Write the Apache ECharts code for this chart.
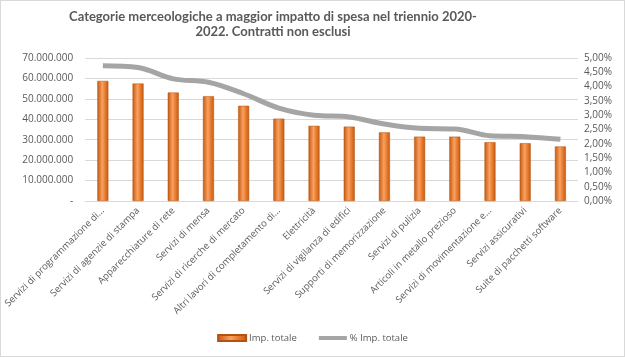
<!DOCTYPE html>
<html><head><meta charset="utf-8">
<script src="https://cdn.jsdelivr.net/npm/echarts@6/dist/echarts.min.js"></script>
<style>html,body{margin:0;padding:0;background:#fff}#c{width:625px;height:357px;box-sizing:border-box;border:1px solid #d9d9d9}</style>
</head><body><div id="c"></div>
<script>
const categories = ["Servizi di programmazione di...","Servizi di agenzie di stampa","Apparecchiature di rete","Servizi di mensa","Servizi di ricerche di mercato","Altri lavori di completamento di...","Elettricità","Servizi di vigilanza di edifici","Supporti di memorizzazione","Servizi di pulizia","Articoli in metallo prezioso","Servizi di movimentazione e...","Servizi assicurativi","Suite di pacchetti software"];
const impTotale = [58800000,57500000,53100000,51300000,46600000,40300000,36800000,36400000,33600000,31500000,31500000,28800000,28300000,26700000];
const pctImpTotale = [0.0473,0.0467,0.0427,0.0415,0.0375,0.0325,0.0300,0.0294,0.0269,0.0254,0.0252,0.0228,0.0225,0.0216];
const leftTicks = {min:0,max:70000000,interval:10000000};
const rightTicks = {min:0,max:0.05,interval:0.005};

const chart = echarts.init(document.getElementById('c'));
const txt = '#595959';
function fmtNum(v){ if(v===0) return '-'; return String(Math.round(v)).replace(/\B(?=(\d{3})+(?!\d))/g,'.'); }
function fmtPct(v){ return (v*100).toFixed(2).replace('.',',')+'%'; }
chart.setOption({
  animation:false,
  textStyle:{fontFamily:'Open Sans'},
  title:{text:'Categorie merceologiche a maggior impatto di spesa nel triennio 2020-\n2022. Contratti non esclusi',left:267,top:3,textAlign:'center',
    textStyle:{fontFamily:'Lato',fontWeight:'bold',fontSize:13,color:txt,lineHeight:15,align:'center'}},
  grid:{left:84,right:46,top:57,bottom:155,containLabel:false},
  legend:{bottom:8,left:'center',itemGap:22,itemWidth:28,itemHeight:6,textStyle:{color:txt,fontSize:9.5,fontFamily:'Open Sans',padding:[0,0,0,-2]},
    data:[{name:'Imp. totale',icon:'rect'},{name:'% Imp. totale',icon:'path://M0,1H28V5H0Z'}]},
  xAxis:{type:'category',data:categories,
    axisLine:{lineStyle:{color:'#d9d9d9'}},axisTick:{show:false},
    axisLabel:{rotate:45,interval:0,color:txt,fontSize:9.5,margin:8,fontFamily:'Open Sans'}},
  yAxis:[
    {type:'value',min:leftTicks.min,max:leftTicks.max,interval:leftTicks.interval,
     axisLabel:{color:txt,fontSize:10,formatter:fmtNum,margin:12},
     splitLine:{lineStyle:{color:'#d9d9d9'}},axisLine:{show:false},axisTick:{show:false}},
    {type:'value',min:rightTicks.min,max:rightTicks.max,interval:rightTicks.interval,
     axisLabel:{color:txt,fontSize:10,formatter:fmtPct,margin:6},
     splitLine:{show:false},axisLine:{show:false},axisTick:{show:false}}
  ],
  series:[
    {name:'Imp. totale',type:'bar',data:impTotale,barWidth:11,yAxisIndex:0,
     itemStyle:{borderColor:'#b4520f',borderWidth:0.5,
       color:new echarts.graphic.LinearGradient(0,0,1,0,[{offset:0,color:'#c4580f'},{offset:0.45,color:'#f8a262'},{offset:0.6,color:'#f28a3e'},{offset:1,color:'#c4580f'}])}},
    {name:'% Imp. totale',type:'line',data:pctImpTotale,yAxisIndex:1,smooth:0.35,showSymbol:false,symbol:'none',
     lineStyle:{color:'#a5a5a5',width:5},itemStyle:{color:'#a5a5a5'}}
  ]
});
</script></body></html>
